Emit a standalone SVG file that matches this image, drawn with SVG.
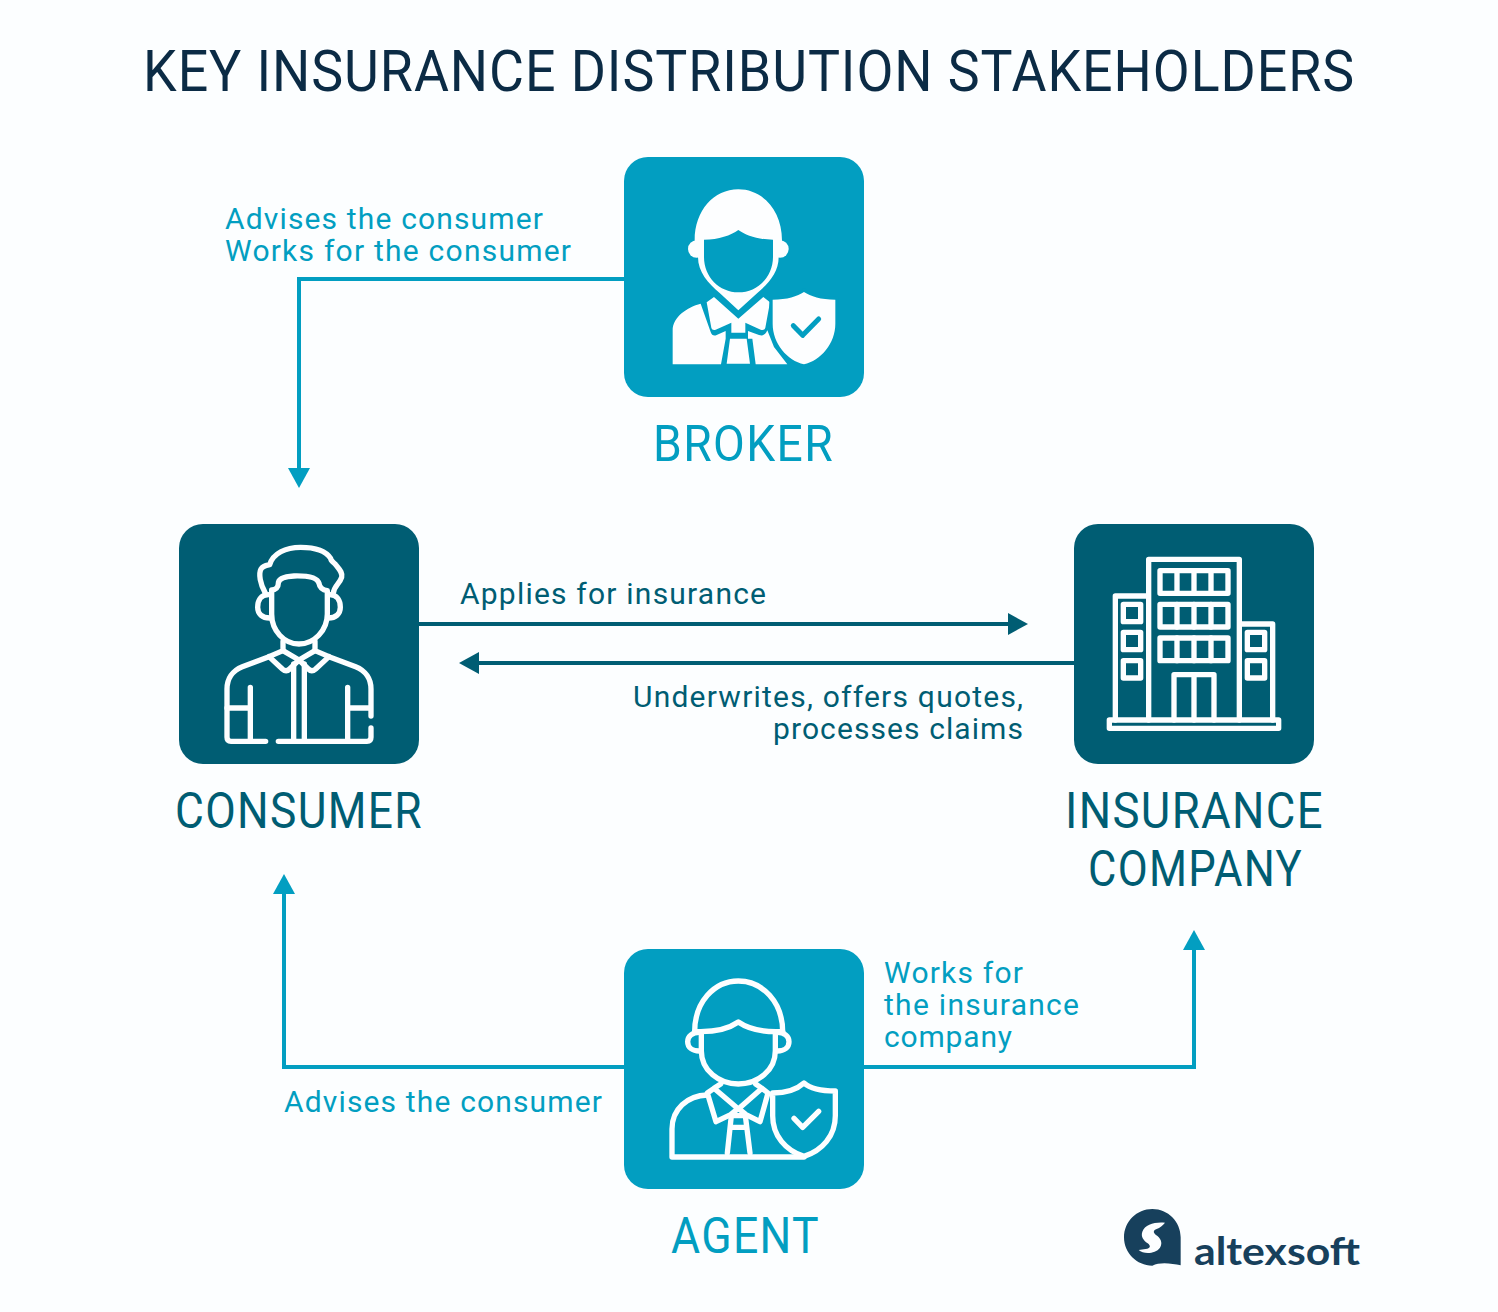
<svg xmlns="http://www.w3.org/2000/svg" width="1498" height="1312" viewBox="0 0 1498 1312">
<style>
text{font-family:"Roboto","Liberation Sans",sans-serif;}
.t{font-size:30px}
.n{font-size:50px;letter-spacing:1.5px}
.b{fill:#029ec1}.d{fill:#005d73}
.w{fill:#fdfeff}
.ln{fill:none;stroke-width:4}
.bl{stroke:#029ec1}.dl{stroke:#005d73}
.ic{fill:none;stroke:#fdfeff;stroke-width:16;stroke-linecap:round;stroke-linejoin:round}
</style>
<rect width="1498" height="1312" fill="#fcfeff"/>
<text x="143" y="91" font-size="58" letter-spacing="1" fill="#0b2b45" textLength="1212" lengthAdjust="spacingAndGlyphs">KEY INSURANCE DISTRIBUTION STAKEHOLDERS</text>

<g id="connectors">
<path class="ln bl" d="M624 279H299V470"/><path class="b" d="M288 468H310L299 488Z"/>
<path class="ln dl" d="M419 624H1010"/><path class="d" d="M1008 613L1028 624L1008 635Z"/>
<path class="ln dl" d="M1074 663H478"/><path class="d" d="M479 652L459 663L479 674Z"/>
<path class="ln bl" d="M624 1067H284V892"/><path class="b" d="M273 894L284 874L295 894Z"/>
<path class="ln bl" d="M864 1067H1194V948"/><path class="b" d="M1183 950L1194 930L1205 950Z"/>
<text class="t b" x="225" y="229" textLength="318">Advises the consumer</text>
<text class="t b" x="225" y="261" textLength="346">Works for the consumer</text>
<text class="t d" x="460" y="604" textLength="306">Applies for insurance</text>
<text class="t d" x="633" y="707" textLength="390">Underwrites, offers quotes,</text>
<text class="t d" x="773" y="739" textLength="250">processes claims</text>
<text class="t b" x="884" y="983" textLength="139">Works for</text>
<text class="t b" x="884" y="1015" textLength="195">the insurance</text>
<text class="t b" x="884" y="1047" textLength="128">company</text>
<text class="t b" x="284" y="1112" textLength="318">Advises the consumer</text>
</g>

<g id="broker">
<rect class="b" x="624" y="157" width="240" height="240" rx="24"/>
<g transform="translate(624 157) scale(.33333)">
<circle class="w" cx="218" cy="276" r="26"/><circle class="w" cx="468" cy="276" r="26"/>
<path class="w" d="M212 250C212 160 270 97 343 97C416 97 474 160 474 250V290H464V300C464 345 435 378 400 408L343 460L287 408C252 378 222 345 222 300V290H212Z"/>
<path class="b" d="M240 248C285 248 320 235 343 219C366 235 402 248 447 248V300C447 360 400 406 343 406C286 406 240 360 240 300Z"/>
<path class="w" d="M248 436L270 420L343 485L364 497L410 518C418 520 422 518 424 512L438 436L418 420L343 485L322 497L275 518C268 520 264 518 262 512ZM322 497L343 485L364 497V527H322ZM318 545H368L378 620H308ZM146 622V520C146 480 190 450 230 440L260 525C263 535 270 538 278 534L305 522V545L291 622ZM395 622L385 545H372V522L405 534C418 538 425 532 430 520L450 570L490 622Z"/>
<path class="w" stroke="#029ec1" stroke-width="20" paint-order="stroke" d="M446 428C490 428 520 418 540 405C560 418 590 428 634 428V500C634 560 590 610 540 622C490 610 446 560 446 500Z"/>
<path fill="none" stroke="#029ec1" stroke-width="15" stroke-linecap="round" stroke-linejoin="round" d="M508 506L536 535L584 486"/>
</g>
</g>
<text class="n b" x="653" y="461" textLength="181" lengthAdjust="spacingAndGlyphs">BROKER</text>

<g id="consumer">
<rect class="d" x="179" y="524" width="240" height="240" rx="24"/>
<g class="ic" transform="translate(179 524) scale(.33333)">
<path d="M258 205C244 180 238 150 246 135C252 125 262 124 272 122C282 88 320 70 365 70C405 70 440 80 455 103C455 112 465 115 470 122C480 135 492 145 488 160C482 180 465 185 463 208"/>
<path d="M278 198C290 198 298 190 298 178C298 165 310 158 345 156C385 155 415 160 420 178C422 190 430 198 445 200V270C445 320 405 360 360 360C315 360 278 320 278 270Z"/>
<path d="M268 212C245 212 236 230 236 250C236 270 250 282 272 282M452 212C475 212 484 230 484 250C484 270 470 282 448 282"/>
<path d="M312 352V380L270 398L190 428C160 440 144 465 144 495V640C144 648 148 652 156 652H260M408 352V380L450 398L530 428C560 440 576 465 576 495V576M576 612V640C576 648 572 652 564 652H298"/>
<path d="M270 398L310 435C318 442 325 442 332 435L360 408L388 435C395 442 402 442 410 435L450 398M312 380L360 408L408 380"/>
<path d="M344 420V652M376 420V652M214 490V652M506 490V652M144 552H214M506 552H570"/>
</g>
</g>
<text class="n d" x="175" y="828" textLength="248" lengthAdjust="spacingAndGlyphs">CONSUMER</text>

<g id="insurance-company">
<rect class="d" x="1074" y="524" width="240" height="240" rx="24"/>
<g class="ic" transform="translate(1074 524) scale(.33333)">
<path d="M124 588V216H224M224 588V106H496V588M496 300H596V588"/>
<rect x="106" y="588" width="508" height="25"/>
<rect x="258" y="140" width="204" height="68"/><path d="M309 140V208M360 140V208M411 140V208"/>
<rect x="258" y="241" width="204" height="68"/><path d="M309 241V309M360 241V309M411 241V309"/>
<rect x="258" y="342" width="204" height="68"/><path d="M309 342V410M360 342V410M411 342V410"/>
<rect x="148" y="241" width="52" height="52"/><rect x="148" y="325" width="52" height="52"/><rect x="148" y="410" width="52" height="52"/>
<rect x="520" y="325" width="52" height="52"/><rect x="520" y="410" width="52" height="52"/>
<path d="M300 588V452H420V588M360 452V588"/>
</g>
</g>
<text class="n d" x="1065" y="828" textLength="259" lengthAdjust="spacingAndGlyphs">INSURANCE</text>
<text class="n d" x="1088" y="886" textLength="215" lengthAdjust="spacingAndGlyphs">COMPANY</text>

<g id="agent">
<rect class="b" x="624" y="949" width="240" height="240" rx="24"/>
<g class="ic" transform="translate(624 949) scale(.33333)">
<path d="M212 248C212 160 270 96 343 96C416 96 476 160 476 248"/>
<path d="M230 248C285 248 320 235 343 219C366 235 400 248 456 248"/>
<path d="M212 248H230M456 248H476"/>
<path d="M232 250V305C232 365 285 405 343 405C401 405 454 365 454 305V250"/>
<path d="M226 250C205 250 191 262 191 278C191 295 205 306 226 306M460 250C481 250 495 262 495 278C495 295 481 306 460 306"/>
<path d="M290 405L270 418L250 432L276 518L320 497L343 478L366 497L408 518L432 432L414 418L395 405M270 418L343 480L414 418"/>
<path d="M250 438C190 440 144 480 144 540V624H540"/>
<path d="M322 500H364M322 500L310 612M364 500L378 612M325 535H362"/>
<path d="M446 432C490 432 520 420 540 402C560 420 590 426 634 426V500C634 560 595 605 540 622C485 605 446 560 446 500Z"/>
<path d="M510 508L536 535L584 487"/>
</g>
</g>
<text class="n b" x="671" y="1253" textLength="149" lengthAdjust="spacingAndGlyphs">AGENT</text>

<g id="logo">
<g transform="translate(1110 1195) scale(.33333)">
<path fill="#17405c" d="M212 211V127C212 80 174 42 127 42C80 42 42 80 42 127C42 174 80 212 127 212C150 200 185 205 212 211Z"/>
<path class="w" d="M165 83C135 80 105 88 97 110C92 125 100 135 113 145C122 152 122 158 112 161L86 165C100 178 135 178 150 158C160 142 150 128 138 120C128 112 130 105 140 102C150 98 158 92 165 83Z"/>
</g>
<text x="1194" y="1265" font-size="39" font-weight="700" fill="#17405c" style="font-family:Lato,sans-serif" textLength="166" lengthAdjust="spacingAndGlyphs">altexsoft</text>
</g>
</svg>
